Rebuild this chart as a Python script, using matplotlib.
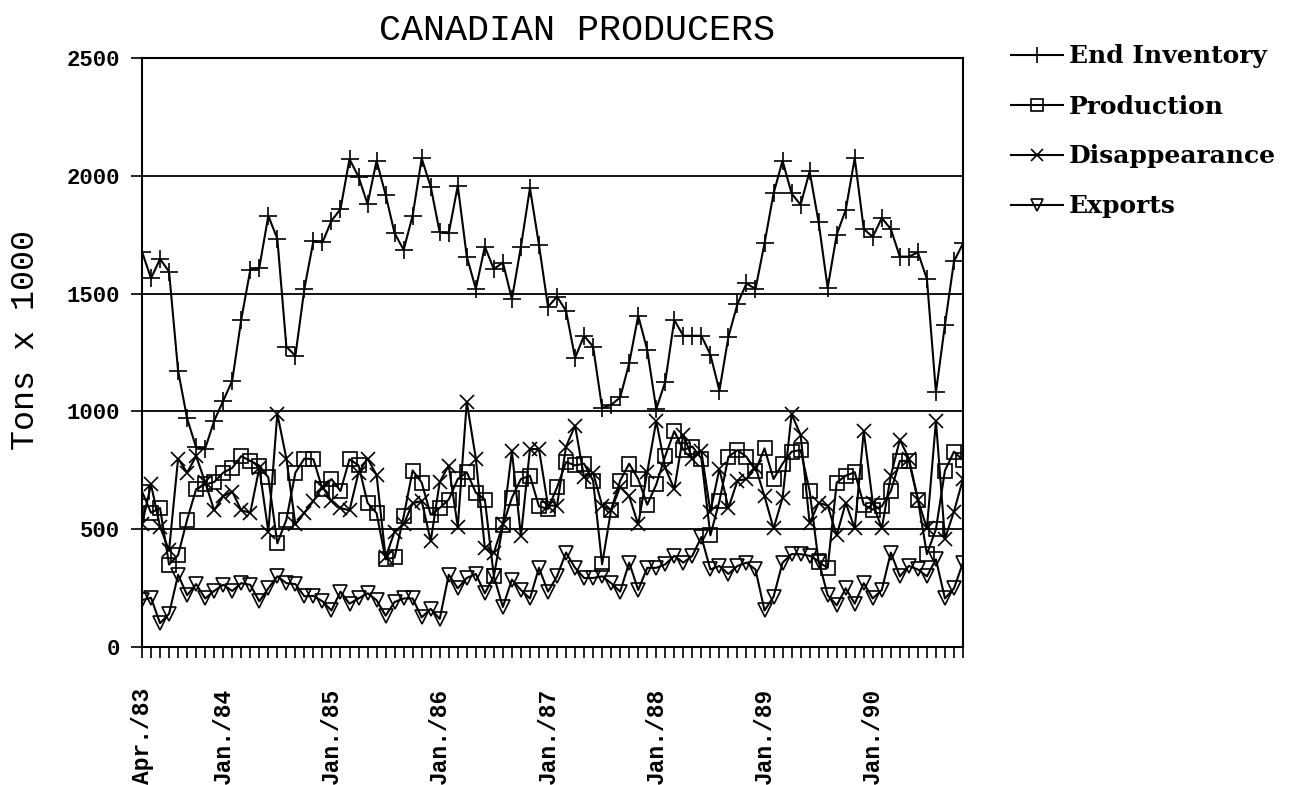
import numpy as np
import matplotlib
matplotlib.use("Agg")
import matplotlib.pyplot as plt

# monthly figures, Apr. 1983 onward (tons x 1000)
end_inventory = [1678, 1565, 1647, 1593, 1173, 970, 847, 842, 960, 1045,
                 1130, 1390, 1600, 1610, 1830, 1733, 1275, 1236, 1521, 1724,
                 1717, 1809, 1859, 2071, 1996, 1880, 2064, 1920, 1756, 1686,
                 1831, 2074, 1954, 1760, 1756, 1958, 1657, 1520, 1699, 1604,
                 1632, 1477, 1699, 1948, 1707, 1444, 1487, 1427, 1227, 1321,
                 1275, 1014, 1028, 1059, 1204, 1406, 1261, 1010, 1126, 1388,
                 1321, 1321, 1321, 1241, 1088, 1317, 1456, 1543, 1520, 1713,
                 1925, 2064, 1925, 1877, 2019, 1802, 1524, 1750, 1855, 2075,
                 1774, 1741, 1821, 1774, 1657, 1657, 1675, 1562, 1081, 1368,
                 1637, 1713]
production = [660, 570, 590, 350, 390, 540, 670, 690, 700, 740,
              760, 810, 790, 770, 720, 440, 540, 740, 800, 797,
              670, 713, 662, 797, 771, 612, 568, 372, 380, 554,
              749, 698, 561, 590, 626, 713, 742, 655, 626, 300,
              517, 633, 713, 727, 597, 586, 677, 785, 771, 778,
              706, 351, 583, 706, 778, 713, 604, 690, 811, 916,
              836, 851, 800, 474, 619, 807, 836, 807, 749, 843,
              713, 778, 829, 836, 662, 360, 336, 698, 727, 742,
              604, 583, 597, 662, 790, 790, 626, 394, 500, 749,
              829, 793]
disappearance = [520, 690, 510, 410, 800, 740, 810, 700, 580, 640,
                 660, 580, 570, 760, 490, 990, 800, 520, 570, 620,
                 680, 620, 590, 580, 740, 800, 730, 380, 490, 520,
                 610, 620, 450, 700, 770, 510, 1040, 800, 420, 400,
                 520, 830, 470, 840, 840, 600, 600, 850, 940, 720,
                 740, 600, 580, 680, 640, 520, 742, 959, 760, 670,
                 901, 800, 830, 575, 756, 590, 706, 713, 764, 640,
                 503, 633, 988, 901, 525, 612, 600, 474, 612, 503,
                 916, 612, 503, 727, 880, 800, 626, 503, 959, 459,
                 575, 713]
exports = [199, 209, 101, 141, 307, 220, 267, 206, 238, 264,
           238, 271, 264, 194, 249, 300, 271, 267, 215, 217,
           194, 155, 235, 184, 206, 228, 199, 133, 191, 206,
           206, 126, 162, 119, 307, 249, 293, 310, 228, 300,
           170, 286, 242, 206, 336, 235, 300, 401, 336, 293,
           293, 300, 271, 235, 358, 242, 336, 336, 351, 387,
           358, 387, 467, 329, 344, 310, 344, 358, 329, 155,
           213, 358, 394, 394, 387, 365, 220, 177, 249, 184,
           271, 206, 242, 401, 300, 344, 329, 300, 372, 206,
           249, 358]

x_labels = {0: "Apr./83", 9: "Jan./84", 21: "Jan./85", 33: "Jan./86",
            45: "Jan./87", 57: "Jan./88", 69: "Jan./89", 81: "Jan./90"}

months = np.arange(len(end_inventory))

mono = "Liberation Mono"
serif = "DejaVu Serif"

fig = plt.figure(figsize=(12.91, 7.85), dpi=100)
ax = fig.add_axes([142 / 1291, 1 - 647 / 785, 821 / 1291, 589 / 785])

style = dict(color="black", lw=1.5, mfc="none", mec="black", mew=1.2)
ax.plot(months, end_inventory, marker="+", ms=13, label="End Inventory", **style)
ax.plot(months, production, marker="s", ms=10, label="Production", **style)
ax.plot(months, disappearance, marker="x", ms=10, label="Disappearance", **style)
ax.plot(months, exports, marker="v", ms=10, label="Exports", **style)

ax.set_xlim(0, len(months) - 1)
ax.set_ylim(0, 2500)
ax.set_yticks(range(0, 2501, 500))
for y in range(500, 2501, 500):
    ax.axhline(y, color="black", lw=1.3, zorder=0)

ax.set_xticks(months)
ax.set_xticklabels([x_labels.get(m, "") for m in months], rotation=90,
                   fontfamily=mono, fontweight="bold", fontsize=16.5)
ax.tick_params(axis="x", length=8, width=1.2, pad=21)
ax.tick_params(axis="y", length=8, width=1.2, pad=8)
for lab in ax.get_yticklabels():
    lab.set_fontfamily(mono)
    lab.set_fontweight("bold")
    lab.set_fontsize(16)
for sp in ax.spines.values():
    sp.set_linewidth(1.5)

fig.text(577 / 1291, 1 - 30 / 785, "CANADIAN PRODUCERS", ha="center",
         va="center", fontfamily=mono, fontsize=26.5)
fig.text(26 / 1291, 1 - 340 / 785, "Tons x 1000", rotation=90, ha="center",
         va="center", fontfamily=mono, fontsize=24)

fig.legend(loc="upper left", bbox_to_anchor=(988 / 1291, 1 - 22 / 785),
           frameon=False, handlelength=2.1, labelspacing=1.04,
           handletextpad=0.25, markerscale=0.85,
           prop=dict(family=serif, weight="bold", size=18))

plt.savefig("out.png", dpi=100)
